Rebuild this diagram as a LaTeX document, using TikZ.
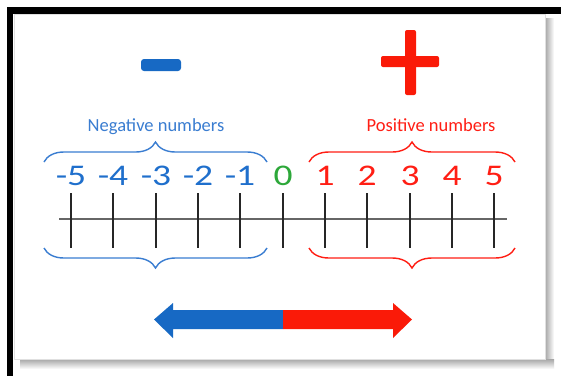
\documentclass[tikz,border=0pt]{standalone}
\usepackage{fontspec}
\setmainfont{Carlito}
\usetikzlibrary{decorations.pathreplacing}
\definecolor{negblue}{HTML}{1F6FCC}
\definecolor{negtext}{HTML}{3A7DD1}
\definecolor{posred}{HTML}{FF1E14}
\definecolor{zerogreen}{HTML}{2DA83A}
\definecolor{arrowblue}{HTML}{1769C4}
\definecolor{arrowred}{HTML}{FA1A08}
\tikzset{
  numlabel/.style={font=\fontsize{30}{30}\selectfont, inner sep=0pt, anchor=base, xscale=1.25},
  sidelabel/.style={font=\fontsize{18.5}{18.5}\selectfont, inner sep=0pt, anchor=base},
  bracelines/.style={decorate, decoration={brace, amplitude=20pt}, line width=1.4pt},
  tickline/.style={line width=2pt, black!85},
}
\begin{document}
\begin{tikzpicture}[x=1pt,y=-1pt]
\useasboundingbox (0,0) rectangle (561,376);
\fill[white] (0,0) rectangle (561,376);
% shadow of panel
\shade[left color=black!35, right color=white] (545,18) rectangle (554,369);
\shade[top color=black!35, bottom color=white] (20,359) rectangle (554,369);
\fill[white] (13,13) rectangle (545,359);
\draw[black!12, line width=0.8pt] (14,14) rectangle (545,359);
% black frame
\fill[black] (7,7) rectangle (561,14);
\fill[black] (7,7) rectangle (13,376);
% signs
\fill[arrowblue, rounded corners=3pt] (141,59) rectangle (181,71);
\fill[arrowred, rounded corners=2pt] (381,56) rectangle (439,67);
\fill[arrowred, rounded corners=2pt] (405,30) rectangle (416,95);
% headings
\node[sidelabel, text=negtext] (negtitle) at (156,131) {Negative numbers};
\node[sidelabel, text=posred] (postitle) at (431,131) {Positive numbers};
% axis
\coordinate (axl) at (59,219);
\coordinate (axr) at (507,219);
\draw[line width=2pt, black!60] (axl) -- (axr);
\foreach \xx in {71,113,156,198,240,283,325,367,410,452,494}{
  \draw[tickline] (\xx,193) -- (\xx,248);
}
% numbers
\foreach \k/\xx/\lab in {0/71/-5,1/113/-4,2/156/-3,3/198/-2,4/240/-1}{
  \node[numlabel, text=negblue] (num\k) at (\xx,185) {\lab};
}
\node[numlabel, text=zerogreen] (num5) at (283,185) {0};
\foreach \k/\xx/\lab in {6/325/1,7/367/2,8/410/3,9/452/4,10/494/5}{
  \node[numlabel, text=posred] (num\k) at (\xx,185) {\lab};
}
% braces
\draw[bracelines, negtext] (44,162) -- (267,162);
\draw[bracelines, negtext] (267,248) -- (44,248);
\draw[bracelines, posred] (309,162) -- (515,162);
\draw[bracelines, posred] (515,248) -- (309,248);
% double arrow
\fill[arrowblue] (154,319.5) -- (173,303) -- (173,310) -- (283,310) -- (283,329) -- (173,329) -- (173,338) -- cycle;
\fill[arrowred] (412,319.5) -- (393,303) -- (393,310) -- (283,310) -- (283,329) -- (393,329) -- (393,338) -- cycle;
\end{tikzpicture}
\end{document}
